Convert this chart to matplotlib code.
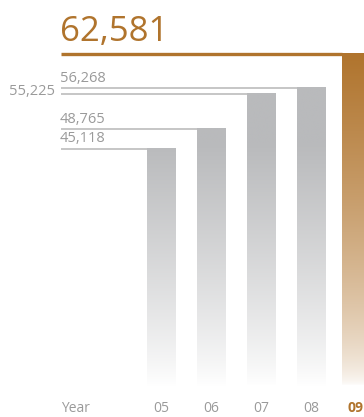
import numpy as np
import matplotlib.pyplot as plt

# revenue per year
years = ["05", "06", "07", "08", "09"]
values = [45118, 48765, 55225, 56268, 62581]
labels = ["45,118", "48,765", "55,225", "56,268", "62,581"]

GRAY_TOP = np.array([185, 186, 188]) / 255
BROWN_TOP = np.array([176, 116, 45]) / 255
BROWN = "#B0742D"
TEXT_GRAY = "#9A9A9A"
LINE_GRAY = "#C6C6C6"

plt.rcParams["font.family"] = ["Open Sans", "DejaVu Sans"]

fig = plt.figure(figsize=(3.64, 4.17), dpi=100)
ax = fig.add_axes([0, 0, 1, 1])
ax.set_xlim(-3.22, 4.06)
ax.set_ylim(-4227, 72417)
ax.axis("off")

pos = [0, 1, 2, 3, 3.9]
w = 0.58
line_start = -2.0


def shade(top, v, ref, gamma, floor=1500):
    t = np.clip((v - floor) / (ref - floor), 0, 1) ** gamma
    return 1 - (1 - top)[None, :] * t[:, None]


for i, (p, v) in enumerate(zip(pos, values)):
    last = i == len(values) - 1
    ys = np.linspace(0, v, 300)
    if last:
        col = shade(BROWN_TOP, ys, v, 0.62)
    else:
        col = shade(GRAY_TOP, ys, 46000, 0.85)
    img = col[:, None, :]
    ax.imshow(img, extent=[p - w / 2, p + w / 2, 0, v], origin="lower",
              aspect="auto", interpolation="bilinear", zorder=2)

    # guide line from the left margin to the bar
    ax.plot([line_start, p - w / 2], [v, v],
            color=BROWN if last else LINE_GRAY,
            lw=2.4 if last else 1.4, solid_capstyle="butt", zorder=1)

# value labels
ax.annotate(labels[4], (line_start, values[4]), xytext=(-1, 3),
            textcoords="offset points", color=BROWN, fontsize=25,
            ha="left", va="bottom")
for i in [0, 1, 3]:
    ax.annotate(labels[i], (line_start, values[i]), xytext=(-1, 1.5),
                textcoords="offset points", color=TEXT_GRAY, fontsize=10.5,
                ha="left", va="bottom")
ax.annotate(labels[2], (line_start, values[2]), xytext=(-4, 1.5),
            textcoords="offset points", color=TEXT_GRAY, fontsize=10.5,
            ha="right", va="center")

# year axis
y_lab = -2600
ax.text(line_start, y_lab, "Year", color=TEXT_GRAY, fontsize=10,
        ha="left", va="center")
for i, (p, yr) in enumerate(zip(pos, years)):
    last = i == len(years) - 1
    ax.text(p, y_lab, yr, ha="center", va="center", fontsize=10,
            color=BROWN if last else TEXT_GRAY,
            fontweight="bold" if last else "normal")

fig.savefig("out.png", dpi=100)
